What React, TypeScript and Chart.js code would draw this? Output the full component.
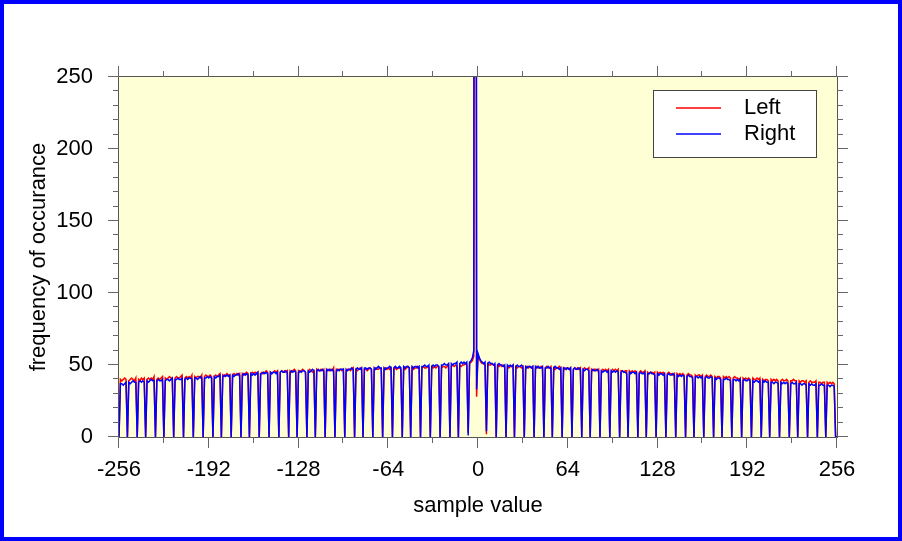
import React, { useEffect, useRef } from 'react';
import { Chart, registerables } from 'chart.js';

Chart.register(...registerables);

// first sample value (bins run consecutively up to +256)
const sampleMin = -256;

// Left channel histogram counts, sample values -256 .. 256
const leftCounts = [
  0,40,39,40,41,40,0,39,40,41,40,39,41,0,40,39,
  41,40,41,0,40,41,40,41,40,42,0,40,41,40,41,42,
  0,41,40,41,42,41,41,0,41,42,41,41,42,43,0,41,
  42,41,42,41,43,0,42,41,42,42,41,43,0,42,43,42,
  42,43,42,0,42,43,42,43,44,0,43,42,43,44,43,43,
  0,43,44,43,44,43,44,0,44,43,44,45,44,0,44,45,
  44,45,44,45,0,44,45,44,45,46,45,0,45,44,45,46,
  45,46,0,45,46,45,46,45,46,0,46,45,46,47,46,0,
  46,45,46,47,46,45,0,46,47,46,45,46,0,47,46,46,
  47,46,47,0,46,47,46,47,46,48,0,47,46,47,47,46,
  47,0,46,47,47,46,47,48,0,47,46,47,48,47,0,47,
  47,46,47,48,47,0,47,48,47,47,48,47,0,47,48,47,
  48,47,48,0,47,48,47,48,48,47,0,48,47,48,49,48,
  0,48,47,48,48,49,48,0,48,49,48,48,49,48,0,49,
  48,49,48,49,49,0,48,49,49,48,49,50,0,49,50,49,
  50,49,0,50,49,50,50,51,50,3,51,52,53,56,1500,28,
  57,54,52,51,51,50,2,51,50,50,51,50,50,0,50,49,
  50,49,50,49,0,49,48,49,49,50,0,49,48,49,49,48,
  49,0,48,49,48,49,48,49,0,48,49,48,48,49,48,0,
  48,49,48,48,49,0,48,47,48,48,49,48,0,48,47,48,
  48,47,48,0,47,48,47,48,47,48,0,47,48,47,47,48,
  0,47,46,47,47,46,47,0,46,47,46,47,46,47,0,46,
  47,46,47,46,47,0,46,46,45,46,46,0,46,45,46,45,
  46,45,0,45,46,45,45,46,0,45,44,45,45,44,45,0,
  45,44,45,44,45,44,0,44,45,44,44,43,44,0,44,43,
  44,43,44,43,0,43,44,43,43,42,0,43,42,43,43,42,
  43,0,42,43,42,42,43,42,0,42,41,42,42,41,0,42,
  41,42,41,42,41,0,41,42,41,41,40,41,0,41,40,41,
  40,41,40,0,41,40,40,41,40,41,0,40,39,40,40,39,
  0,40,39,40,39,40,39,0,39,40,39,39,40,39,0,39,
  39,40,39,39,0,39,38,39,39,38,39,0,38,39,38,38,
  38,39,0,38,38,37,38,38,0,38,37,38,37,38,37,0,0,
];

// Right channel histogram counts, sample values -256 .. 256
const rightCounts = [
  0,37,37,36,37,38,0,38,37,38,39,38,38,0,38,39,
  38,39,38,0,39,38,39,40,39,39,0,39,40,39,39,40,
  0,39,40,40,39,40,41,0,40,40,41,40,40,41,0,40,
  41,40,41,41,40,0,41,41,40,41,42,41,0,41,41,42,
  41,42,41,0,42,41,42,42,43,0,42,43,42,43,42,43,
  0,43,42,43,43,44,43,0,43,44,43,44,43,0,44,43,
  44,43,44,45,0,44,44,45,44,45,44,0,45,44,45,45,
  44,45,0,45,46,45,45,46,45,0,45,46,45,46,45,0,
  45,46,45,46,46,45,0,46,45,46,47,46,0,46,47,46,
  46,47,46,0,47,46,47,46,47,46,0,46,47,46,47,47,
  47,0,47,46,47,47,48,47,0,47,48,47,47,48,0,48,
  48,47,48,48,47,0,48,47,48,49,48,48,0,48,47,48,
  48,49,48,0,48,49,48,48,49,48,0,49,48,49,49,48,
  0,49,48,49,49,48,49,0,49,49,50,49,49,50,0,49,
  50,49,50,50,49,0,50,50,51,50,50,51,0,51,50,51,
  51,52,0,51,52,51,52,51,52,1,52,53,55,60,1500,33,
  58,55,53,52,51,52,4,51,52,51,51,50,51,0,50,51,
  50,50,49,50,0,50,49,50,49,50,0,49,50,49,49,50,
  49,0,49,48,49,49,48,49,0,49,48,49,48,48,49,0,
  48,48,49,48,48,0,48,49,48,48,47,48,0,48,48,47,
  48,47,48,0,47,48,47,47,48,47,0,47,46,47,47,46,
  0,46,47,46,46,47,46,0,46,45,46,46,45,46,0,46,
  45,46,45,46,45,0,45,46,45,45,44,0,45,44,45,45,
  44,45,0,44,45,44,44,45,0,44,44,45,44,44,43,0,
  44,43,44,44,43,44,0,43,44,43,43,44,43,0,43,42,
  43,42,43,42,0,42,43,42,42,41,0,42,42,41,42,41,
  42,0,41,42,41,41,42,41,0,41,40,41,41,40,0,40,
  40,41,40,40,39,0,40,40,39,40,39,40,0,39,40,39,
  39,40,39,0,39,38,39,39,38,39,0,39,38,39,38,38,
  0,38,38,37,38,38,37,0,38,37,38,37,38,37,0,37,
  38,37,37,38,0,37,37,36,37,37,36,0,37,36,37,36,
  36,37,0,36,36,37,36,36,0,36,36,35,36,36,35,0,0,
];

const seriesLabels = ['Left', 'Right'];
const seriesColors = ['#ff0000', '#0000ff'];

const xMajorTicks = [-256, -192, -128, -64, 0, 64, 128, 192, 256];
const xMinorTicks = [-224, -160, -96, -32, 32, 96, 160, 224];
const yMajorTicks = [0, 50, 100, 150, 200, 250];
const yMinorTicks = [10, 20, 30, 40, 60, 70, 80, 90, 110, 120, 130, 140, 160, 170, 180, 190, 210, 220, 230, 240];

const xTitle = 'sample value';
const yTitle = 'frequency of occurance';

const FONT = '"Liberation Sans", Arial, Helvetica, sans-serif';
const FONT_SIZE = 22;

export default function App() {
  const ref = useRef<HTMLCanvasElement>(null);

  useEffect(() => {
    const canvas = ref.current;
    if (!canvas) return;

    const toPoints = (arr: number[]) => arr.map((y, i) => ({ x: sampleMin + i, y }));

    const decorPlugin = {
      id: 'decor',
      beforeDraw(chart: any) {
        const { ctx, chartArea: a, width, height } = chart;
        ctx.save();
        ctx.fillStyle = '#ffffff';
        ctx.fillRect(0, 0, width, height);
        ctx.fillStyle = '#ffffd6';
        ctx.fillRect(a.left, a.top, a.right - a.left, a.bottom - a.top);
        ctx.restore();
      },
      afterDraw(chart: any) {
        const { ctx, chartArea: a, scales, width, height } = chart;
        const xs = scales.x;
        const ys = scales.y;
        ctx.save();
        // plot frame
        ctx.strokeStyle = '#555555';
        ctx.lineWidth = 1;
        ctx.strokeRect(a.left - 0.5, a.top - 0.5, a.right - a.left + 1, a.bottom - a.top + 1);
        // tick marks (outward, all four sides)
        ctx.strokeStyle = '#666666';
        ctx.beginPath();
        const xTick = (v: number, len: number) => {
          const p = Math.round(xs.getPixelForValue(v)) - 0.5;
          ctx.moveTo(p, a.bottom);
          ctx.lineTo(p, a.bottom + len);
          ctx.moveTo(p, a.top);
          ctx.lineTo(p, a.top - len);
        };
        const yTick = (v: number, len: number) => {
          const p = Math.round(ys.getPixelForValue(v)) - 0.5;
          ctx.moveTo(a.left, p);
          ctx.lineTo(a.left - len, p);
          ctx.moveTo(a.right, p);
          ctx.lineTo(a.right + len, p);
        };
        xMajorTicks.forEach((v) => xTick(v, 11));
        xMinorTicks.forEach((v) => xTick(v, 6));
        yMajorTicks.forEach((v) => yTick(v, 11));
        yMinorTicks.forEach((v) => yTick(v, 6));
        ctx.stroke();

        // legend
        const bx = 653.5, by = 90.5, bw = 163, bh = 67;
        ctx.fillStyle = '#ffffff';
        ctx.fillRect(bx, by, bw, bh);
        ctx.strokeStyle = '#444444';
        ctx.lineWidth = 1;
        ctx.strokeRect(bx, by, bw, bh);
        ctx.font = `${FONT_SIZE}px ${FONT}`;
        ctx.textBaseline = 'middle';
        ctx.textAlign = 'left';
        chart.data.datasets.forEach((ds: any, i: number) => {
          const ly = 108 + i * 26;
          ctx.strokeStyle = ds.borderColor;
          ctx.lineWidth = 1.5;
          ctx.beginPath();
          ctx.moveTo(676, ly);
          ctx.lineTo(721, ly);
          ctx.stroke();
          ctx.fillStyle = '#000000';
          ctx.fillText(ds.label, 744, ly);
        });

        // outer blue border
        ctx.strokeStyle = '#0000ff';
        ctx.lineWidth = 4;
        ctx.strokeRect(2, 2, width - 4, height - 4);
        ctx.restore();
      },
    };

    const tickFont = { size: FONT_SIZE, family: FONT };

    const chart = new Chart(canvas, {
      type: 'line',
      data: {
        datasets: [
          {
            label: seriesLabels[0],
            data: toPoints(leftCounts),
            borderColor: seriesColors[0],
            backgroundColor: seriesColors[0],
            borderWidth: 1.5,
            pointRadius: 0,
            tension: 0,
            order: 1,
          },
          {
            label: seriesLabels[1],
            data: toPoints(rightCounts),
            borderColor: seriesColors[1],
            backgroundColor: seriesColors[1],
            borderWidth: 1.5,
            pointRadius: 0,
            tension: 0,
            order: 0,
          },
        ],
      },
      options: {
        responsive: false,
        animation: false,
        devicePixelRatio: 1,
        layout: { padding: { top: 77, right: 65, left: 0, bottom: 0 } },
        plugins: {
          legend: { display: false },
          tooltip: { enabled: false },
        },
        scales: {
          x: {
            type: 'linear',
            min: xMajorTicks[0],
            max: xMajorTicks[xMajorTicks.length - 1],
            afterBuildTicks: (s: any) => {
              s.ticks = xMajorTicks.map((v) => ({ value: v }));
            },
            afterFit: (s: any) => {
              s.height = 104;
            },
            grid: { display: false, drawTicks: false },
            border: { display: false },
            ticks: {
              autoSkip: false,
              maxRotation: 0,
              padding: 20,
              font: tickFont,
              color: '#000000',
              callback: (v: any) => String(v),
            },
            title: {
              display: true,
              text: xTitle,
              font: tickFont,
              color: '#000000',
              padding: { top: 0, bottom: 21.5 },
            },
          },
          y: {
            type: 'linear',
            min: yMajorTicks[0],
            max: yMajorTicks[yMajorTicks.length - 1],
            afterBuildTicks: (s: any) => {
              s.ticks = yMajorTicks.map((v) => ({ value: v }));
            },
            afterFit: (s: any) => {
              s.width = 119;
            },
            grid: { display: false, drawTicks: false },
            border: { display: false },
            ticks: {
              padding: 26,
              font: tickFont,
              color: '#000000',
              callback: (v: any) => String(v),
            },
            title: {
              display: true,
              text: yTitle,
              font: tickFont,
              color: '#000000',
              padding: { top: 26, bottom: 0 },
            },
          },
        },
      } as any,
      plugins: [decorPlugin],
    });

    return () => {
      chart.destroy();
    };
  }, []);

  return (
    <div style={{ position: 'absolute', left: 0, top: 0, width: 902, height: 541 }}>
      <canvas ref={ref} width={902} height={541} style={{ display: 'block', width: 902, height: 541 }} />
    </div>
  );
}
